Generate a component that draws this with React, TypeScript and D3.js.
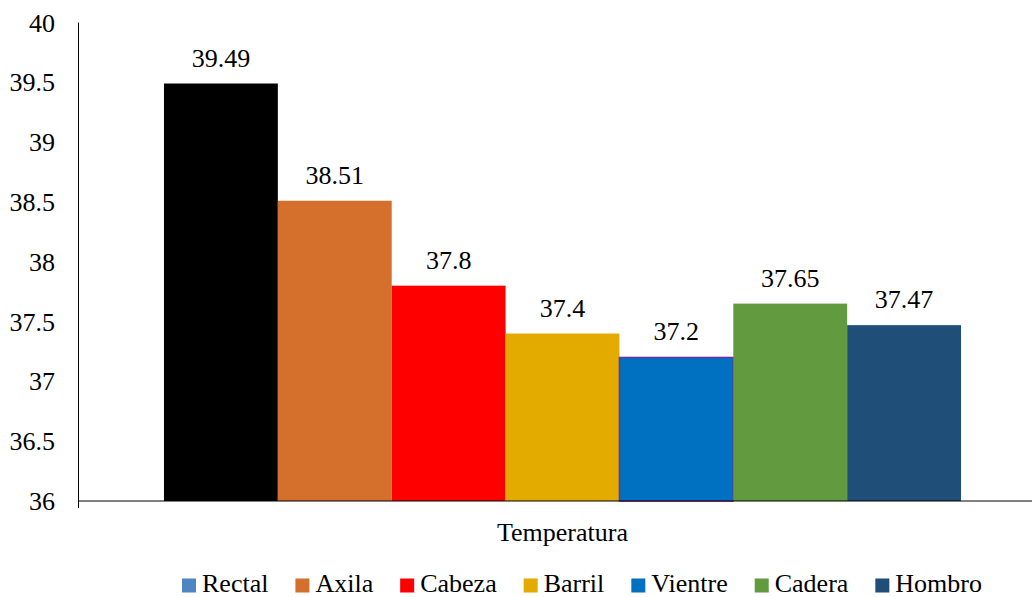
import React from 'react';
import * as d3 from 'd3';

const categories = ['Temperatura'];
const seriesNames = ['Rectal', 'Axila', 'Cabeza', 'Barril', 'Vientre', 'Cadera', 'Hombro'];
const seriesValues = [39.49, 38.51, 37.8, 37.4, 37.2, 37.65, 37.47];
const valueLabels = ['39.49', '38.51', '37.8', '37.4', '37.2', '37.65', '37.47'];
const barColors = ['#000000', '#D4702C', '#FF0000', '#E3AA00', '#0070C0', '#629A3F', '#1F4E79'];
const legendColors = ['#4E86C2', '#D4702C', '#FF0000', '#E3AA00', '#0070C0', '#629A3F', '#1F4E79'];
const yTicks = [36, 36.5, 37, 37.5, 38, 38.5, 39, 39.5, 40];
const yTickLabels = ['36', '36.5', '37', '37.5', '38', '38.5', '39', '39.5', '40'];

const W = 1032;
const H = 597;
const FONT = 'Liberation Serif';
const FS = 26;

const plot = { left: 78.5, right: 1046.5, top: 22.5, bottom: 501 };

const y = d3.scaleLinear().domain([36, 40]).range([plot.bottom, plot.top]);
const x0 = d3.scaleBand<string>().domain(categories).range([plot.left, plot.right]);
const gap = x0.bandwidth() * 0.0883;
const x1 = d3.scaleBand<string>().domain(seriesNames).range([gap, x0.bandwidth() - gap]);

// measure legend text with a canvas
const measure = (s: string) => {
  const ctx = document.createElement('canvas').getContext('2d');
  if (!ctx) return s.length * FS * 0.45;
  ctx.font = `${FS}px "${FONT}"`;
  return ctx.measureText(s).width;
};

const App: React.FC = () => {
  document.body.style.margin = '0';

  const swatch = 14;
  const textGap = 6;
  const spacing = 27;
  const widths = seriesNames.map(n => swatch + textGap + measure(n));
  const total = d3.sum(widths) + spacing * (widths.length - 1);
  const starts: number[] = [];
  let lx = 582 - total / 2;
  widths.forEach(w => { starts.push(lx); lx += w + spacing; });

  return (
    <svg width={W} height={H} style={{ display: 'block', background: '#fff', fontFamily: FONT }}>
      {categories.map(cat => (
        <g key={cat} transform={`translate(${x0(cat)},0)`}>
          {seriesNames.map((name, i) => {
            const v = seriesValues[i];
            const bx = x1(name) as number;
            return (
              <g key={name}>
                <rect
                  x={bx}
                  y={y(v)}
                  width={x1.bandwidth()}
                  height={y(36) - y(v)}
                  fill={barColors[i]}
                  stroke={name === 'Vientre' ? '#7030A0' : 'none'}
                  strokeWidth={name === 'Vientre' ? 1.5 : 0}
                />
                <text x={bx + x1.bandwidth() / 2} y={y(v) - 17} textAnchor="middle" fontSize={FS} fill="#000" style={{ fontFamily: FONT }}>
                  {valueLabels[i]}
                </text>
              </g>
            );
          })}
        </g>
      ))}

      <line x1={plot.left} x2={plot.left} y1={plot.top} y2={plot.bottom + 7} stroke="#000" strokeWidth={1} />
      <line x1={plot.left} x2={plot.right} y1={plot.bottom} y2={plot.bottom} stroke="#000" strokeWidth={1} />

      {yTicks.map((t, i) => (
        <text key={t} x={55} y={y(t) + 9} textAnchor="end" fontSize={FS} fill="#000" style={{ fontFamily: FONT }}>
          {yTickLabels[i]}
        </text>
      ))}

      {categories.map(cat => (
        <text key={cat} x={(x0(cat) as number) + x0.bandwidth() / 2} y={541} textAnchor="middle" fontSize={FS} fill="#000" style={{ fontFamily: FONT }}>
          {cat}
        </text>
      ))}

      {seriesNames.map((name, i) => (
        <g key={name} transform={`translate(${starts[i]},0)`}>
          <rect x={0} y={578.5} width={swatch} height={swatch} fill={legendColors[i]} />
          <text x={swatch + textGap} y={592} fontSize={FS} fill="#000" style={{ fontFamily: FONT }}>{name}</text>
        </g>
      ))}
    </svg>
  );
};

export default App;
